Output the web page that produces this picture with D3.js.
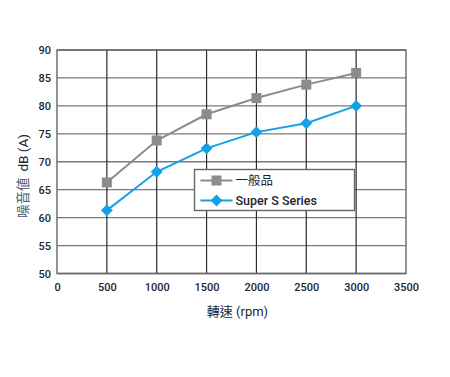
<!DOCTYPE html>
<html>
<head>
<meta charset="utf-8">
<script src="https://cdn.jsdelivr.net/npm/d3@7"></script>
<style>
  body { margin: 0; background: #fff; }
  text { font-family: Roboto, "Noto Sans CJK TC", sans-serif; }
</style>
</head>
<body>
<div id="chart"></div>
<script>
const rpm = [500, 1000, 1500, 2000, 2500, 3000];
const normalValues = [66.3, 73.8, 78.5, 81.4, 83.8, 85.9];
const superValues = [61.3, 68.2, 72.4, 75.3, 76.9, 80.0];
const xTicks = [0, 500, 1000, 1500, 2000, 2500, 3000, 3500];
const yTicks = [50, 55, 60, 65, 70, 75, 80, 85, 90];
const seriesNames = ["一般品", "Super S Series"];

const width = 450, height = 377;
const margin = { top: 50, right: 44, bottom: 103.5, left: 57 };
const w = width - margin.left - margin.right;
const h = height - margin.top - margin.bottom;

const svg = d3.select("#chart").append("svg")
  .attr("width", width)
  .attr("height", height);

const g = svg.append("g")
  .attr("transform", `translate(${margin.left},${margin.top})`);

const x = d3.scaleLinear().domain([0, 3500]).range([0, w]);
const y = d3.scaleLinear().domain([50, 90]).range([h, 0]);

// horizontal grid
g.selectAll(".hgrid")
  .data(yTicks)
  .enter().append("line")
  .attr("x1", 0).attr("x2", w)
  .attr("y1", d => y(d)).attr("y2", d => y(d))
  .attr("stroke", "#7a7a7a")
  .attr("stroke-width", 1.3);

// vertical grid
g.selectAll(".vgrid")
  .data(xTicks.slice(1, -1))
  .enter().append("line")
  .attr("x1", d => x(d)).attr("x2", d => x(d))
  .attr("y1", 0).attr("y2", h)
  .attr("stroke", "#2a2a2a")
  .attr("stroke-width", 1.2);

// frame
g.append("rect")
  .attr("width", w).attr("height", h)
  .attr("fill", "none")
  .attr("stroke", "#666")
  .attr("stroke-width", 1.4);

// tick labels
g.append("g")
  .attr("transform", `translate(0,${h})`)
  .call(d3.axisBottom(x).tickValues(xTicks).tickFormat(d3.format("d")).tickSize(0).tickPadding(10))
  .call(ax => ax.select(".domain").remove())
  .selectAll("text")
  .style("font-size", "11px")
  .style("font-weight", "500")
  .attr("fill", "#1d2433");

g.append("g")
  .call(d3.axisLeft(y).tickValues(yTicks).tickSize(0).tickPadding(6))
  .call(ax => ax.select(".domain").remove())
  .selectAll("text")
  .style("font-size", "11px")
  .style("font-weight", "500")
  .attr("fill", "#1d2433");

// lines
const line = d3.line().x((d, i) => x(rpm[i])).y(d => y(d));

g.append("path")
  .datum(normalValues)
  .attr("d", line)
  .attr("fill", "none")
  .attr("stroke", "#8c8c8c")
  .attr("stroke-width", 2);

g.append("path")
  .datum(superValues)
  .attr("d", line)
  .attr("fill", "none")
  .attr("stroke", "#13a1e8")
  .attr("stroke-width", 2);

// markers
const sq = 10;
g.selectAll(".sq")
  .data(normalValues)
  .enter().append("rect")
  .attr("x", (d, i) => x(rpm[i]) - sq / 2)
  .attr("y", d => y(d) - sq / 2)
  .attr("width", sq).attr("height", sq)
  .attr("fill", "#8c8c8c");

const diamond = d3.symbol().type(d3.symbolDiamond2).size(90);
g.selectAll(".dm")
  .data(superValues)
  .enter().append("path")
  .attr("d", diamond)
  .attr("transform", (d, i) => `translate(${x(rpm[i])},${y(d)})`)
  .attr("fill", "#13a1e8");

// legend
const legend = svg.append("g").attr("transform", "translate(194.5,169.5)");
legend.append("rect")
  .attr("width", 160).attr("height", 41)
  .attr("fill", "#fff")
  .attr("stroke", "#666")
  .attr("stroke-width", 1.4);

const row1 = legend.append("g").attr("transform", "translate(0,11)");
row1.append("line").attr("x1", 6).attr("x2", 38).attr("y1", 0).attr("y2", 0)
  .attr("stroke", "#8c8c8c").attr("stroke-width", 2);
row1.append("rect").attr("x", 22 - sq / 2).attr("y", -sq / 2)
  .attr("width", sq).attr("height", sq).attr("fill", "#8c8c8c");
row1.append("text").attr("x", 41).attr("y", 4.5)
  .style("font-size", "12.5px").attr("fill", "#1d2433").text(seriesNames[0]);

const row2 = legend.append("g").attr("transform", "translate(0,31)");
row2.append("line").attr("x1", 6).attr("x2", 38).attr("y1", 0).attr("y2", 0)
  .attr("stroke", "#13a1e8").attr("stroke-width", 2);
row2.append("path").attr("d", diamond).attr("transform", "translate(22,0)")
  .attr("fill", "#13a1e8");
row2.append("text").attr("x", 41).attr("y", 4.5)
  .style("font-size", "12.5px").style("font-weight", "500")
  .attr("fill", "#1d2433").text(seriesNames[1]);

// axis titles
svg.append("text")
  .attr("x", margin.left + w / 2 + 6)
  .attr("y", 316)
  .attr("text-anchor", "middle")
  .style("font-size", "13px")
  .attr("fill", "#1d2433")
  .text("轉速 (rpm)");

svg.append("text")
  .attr("transform", `translate(28,176) rotate(-90)`)
  .attr("text-anchor", "middle")
  .style("font-size", "13.5px")
  .attr("fill", "#1d2433")
  .html('<tspan fill="#4a5a70">噪音値</tspan><tspan dx="6">dB (A)</tspan>');
</script>
</body>
</html>
